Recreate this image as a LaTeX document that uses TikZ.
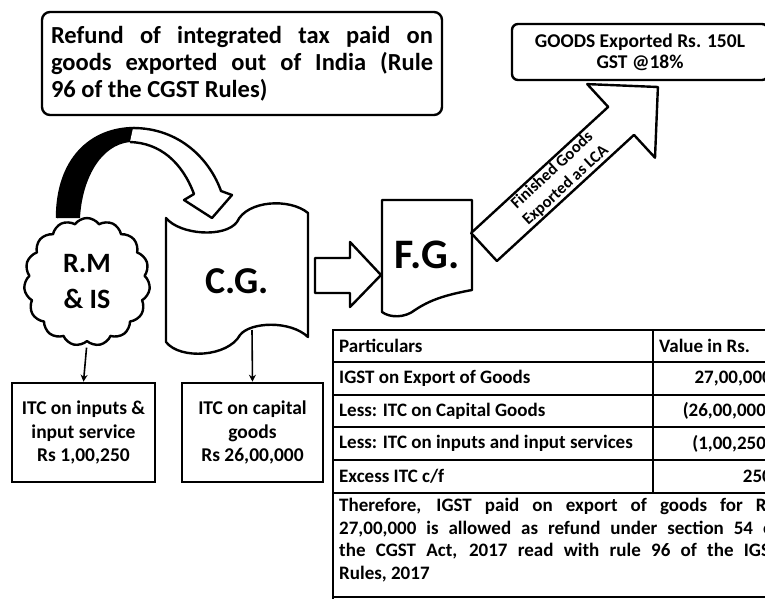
\documentclass[tikz,border=0pt]{standalone}
\usepackage{fontspec}
\setmainfont{Carlito}
\usetikzlibrary{shapes.symbols,arrows.meta}
\begin{document}
\begin{tikzpicture}[x=1pt,y=-1pt,
  shp/.style={draw=black,line width=2.4pt,line join=round},
  boxed/.style={draw=black,line width=2.6pt,align=center,font=\bfseries\fontsize{19.5}{23.5}\selectfont,inner sep=0pt},
  lbl/.style={font=\bfseries,align=center,inner sep=0pt},
  tline/.style={draw=black,line width=1.8pt},
  cell/.style={inner sep=0pt,font=\bfseries\fontsize{19}{21}\selectfont},
  ptr/.style={draw=black,line width=1.6pt,-{Stealth[length=7pt,width=7pt]}}
]
\useasboundingbox (0,0) rectangle (765,599);
\clip (0,0) rectangle (765,599);
\fill[white] (0,0) rectangle (765,599);

% title box
\node[shp,rounded corners=8pt,text width=382pt,align=justify,inner xsep=9pt,inner ysep=0pt,minimum height=103pt,
  font=\bfseries\fontsize{24.5}{27}\selectfont] (title) at (242,63.5)
  {Refund of integrated tax paid on\linebreak goods exported out of India (Rule\linebreak 96 of the CGST Rules)};

% goods box
\node[shp,rounded corners=6pt,minimum width=256pt,minimum height=56pt,align=center,inner sep=0pt,
  font=\bfseries\fontsize{19.5}{21}\selectfont] (goods) at (640,52) {GOODS Exported Rs. 150L\\GST @18\%};

% F.G. document shape
\draw[shp,fill=white] (382,200) -- (472,200) -- (472,290)
  .. controls (445,295) and (430,300) .. (415,310)
  .. controls (405,318) and (390,318) .. (382,312) -- cycle;
\node[lbl,anchor=base,font=\bfseries\fontsize{42}{44}\selectfont] (fg) at (427,268) {F.G.};

% big diagonal block arrow F.G. -> goods
\draw[shp,fill=white] (471.1,233) -- (608.2,106.9) -- (587.2,84.1) -- (657.9,87) -- (655,157.7)
  -- (634,134.9) -- (496.9,261) -- cycle;
\node[lbl,rotate=42.6,font=\bfseries\fontsize{16.5}{20}\selectfont] (exlbl) at (559,178) {Finished Goods\\Exported as LCA};

% C.G. punched tape shape
\draw[shp,fill=white] (166,218) .. controls (180,235) and (225,238) .. (237,222)
  .. controls (247,200) and (290,198) .. (308,213) -- (308,337)
  .. controls (290,320) and (250,322) .. (240,335)
  .. controls (228,357) and (180,360) .. (166,342) -- cycle;
\node[lbl,anchor=base,font=\bfseries\fontsize{38}{40}\selectfont] (cg) at (237,293) {C.G.};
\coordinate (cgb) at (252,330);

% block arrow C.G. -> F.G.
\draw[shp,fill=white] (315,258) -- (350,258) -- (350,242) -- (381,275) -- (350,307) -- (350,293) -- (315,293) -- cycle;

% cloud
\node[cloud,shp,fill=white,cloud puffs=15,cloud puff arc=110,aspect=1,minimum width=126pt,minimum height=128pt,
  inner sep=0pt,align=center,font=\bfseries\fontsize{28}{36}\selectfont] (rm) at (87,282) {R.M\\\& IS};

% curved arrow R.M -> C.G.
\fill[black] (57,218) .. controls (57,160) and (90,128) .. (135,128) -- (130,142)
  .. controls (100,145) and (82,180) .. (80,218) -- cycle;
\draw[shp,fill=white] (133,128) .. controls (180,128) and (210,160) .. (221,191)
  -- (232,195) -- (212,218) -- (184,200) -- (194,194)
  .. controls (182,162) and (160,143) .. (130,142);
\draw[shp] (57,218) .. controls (57,160) and (90,128) .. (135,128);

% lower boxes
\node[boxed,minimum width=143pt,minimum height=99pt] (itcin) at (83.5,432.5) {ITC on inputs \&\\input service\\Rs 1,00,250};
\node[boxed,minimum width=141pt,minimum height=99pt] (itccg) at (252.5,432.5) {ITC on capital\\goods\\Rs 26,00,000};
\draw[ptr,shorten <=5pt] (rm.south) -- (itcin.north);
\draw[ptr] (cgb) -- (itccg.north);

% table
\draw[tline] (333,330) -- (778,330);
\draw[tline] (333,362) -- (778,362);
\draw[tline] (333,395) -- (778,395);
\draw[tline] (333,427) -- (778,427);
\draw[tline] (333,460) -- (778,460);
\draw[tline] (333,493) -- (778,493);
\draw[tline] (333,597) -- (778,597);
\draw[tline] (333,329) -- (333,599);
\draw[tline] (653,330) -- (653,493);
\node[cell,anchor=west] (h1) at (339,346) {Particulars};
\node[cell,anchor=west] (h2) at (659,346) {Value in Rs.};
\node[cell,anchor=west] (r1) at (339,378.5) {IGST on Export of Goods};
\node[cell,anchor=east] (v1) at (772,378.5) {27,00,000};
\node[cell,anchor=west] (r2) at (339,411) {Less: ITC on Capital Goods};
\node[cell,anchor=east] (v2) at (772,411) {(26,00,000)};
\node[cell,anchor=west] (r3) at (339,443.5) {Less: ITC on inputs and input services};
\node[cell,anchor=east] (v3) at (772,443.5) {(1,00,250)};
\node[cell,anchor=west] (r4) at (339,476.5) {Excess ITC c/f};
\node[cell,anchor=east] (v4) at (772,476.5) {250};
\node[cell,anchor=north west,text width=440pt,align=justify,font=\bfseries\fontsize{19}{22.5}\selectfont] (note) at (339,498)
  {Therefore, IGST paid on export of goods for Rs.\linebreak 27,00,000 is allowed as refund under section 54 of\linebreak the CGST Act, 2017 read with rule 96 of the IGST\linebreak Rules, 2017};
\end{tikzpicture}
\end{document}
